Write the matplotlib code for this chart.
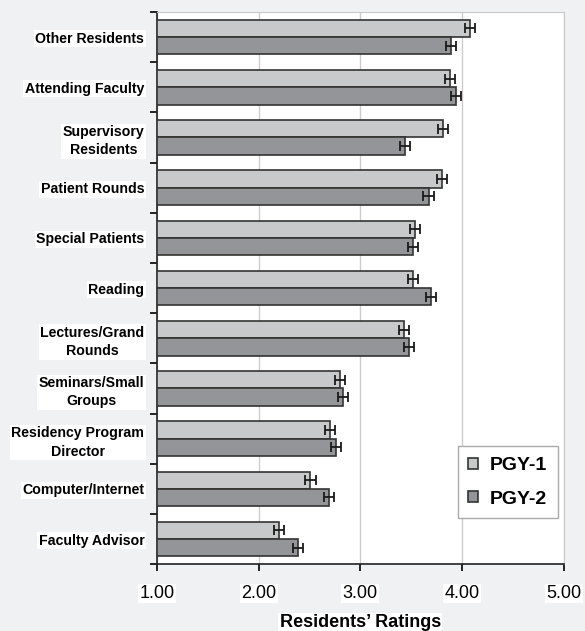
import numpy as np
import matplotlib
matplotlib.use('Agg')
import matplotlib.pyplot as plt

# data
categories = ['Other Residents', 'Attending Faculty', 'Supervisory\nResidents',
              'Patient Rounds', 'Special Patients', 'Reading',
              'Lectures/Grand\nRounds', 'Seminars/Small\nGroups',
              'Residency Program\nDirector', 'Computer/Internet', 'Faculty Advisor']
pgy1 = [4.08, 3.88, 3.81, 3.80, 3.54, 3.52, 3.43, 2.80, 2.70, 2.51, 2.20]
pgy2 = [3.89, 3.94, 3.44, 3.67, 3.52, 3.69, 3.48, 2.83, 2.76, 2.69, 2.39]
pgy1_err = [0.05, 0.05, 0.05, 0.05, 0.05, 0.05, 0.05, 0.05, 0.05, 0.05, 0.05]
pgy2_err = [0.05, 0.05, 0.05, 0.05, 0.05, 0.05, 0.05, 0.05, 0.05, 0.05, 0.05]
xticks = [1, 2, 3, 4, 5]

plt.rcParams['font.family'] = ['Liberation Sans', 'DejaVu Sans']

fig = plt.figure(figsize=(5.85, 6.31), dpi=100, facecolor='#f0f1f3')
ax = fig.add_axes([0.268, 0.106, 0.696, 0.875])
ax.set_facecolor('white')

y = np.arange(len(categories))
h = 0.345
ebar = dict(ecolor='#1a1a1a', elinewidth=1.3, capsize=3.5, capthick=1.3)
ax.barh(y - h / 2, np.array(pgy1) - 1, h, left=1, color='#c8c9cb',
        edgecolor='#333333', linewidth=1.2, label='PGY-1',
        xerr=pgy1_err, error_kw=ebar, zorder=3)
ax.barh(y + h / 2, np.array(pgy2) - 1, h, left=1, color='#939598',
        edgecolor='#333333', linewidth=1.2, label='PGY-2',
        xerr=pgy2_err, error_kw=ebar, zorder=3)

ax.set_xlim(1, 5)
ax.set_ylim(len(categories) - 0.5, -0.5)
ax.set_xticks(xticks)
ax.set_xticklabels(['%.2f' % v for v in xticks], fontsize=13)
ax.xaxis.grid(True, color='#cccccc', linewidth=1, zorder=0)

# category boundaries get the tick marks, labels sit in between
ax.set_yticks(np.arange(-0.5, len(categories)), minor=False)
ax.set_yticklabels([])
ax.set_yticks(y, minor=True)
ax.set_yticklabels(categories, minor=True, fontsize=10.2, fontweight='bold',
                   multialignment='center', linespacing=1.4)
ax.tick_params(axis='y', which='major', length=5, width=1.2, direction='out')
ax.tick_params(axis='y', which='minor', length=0, pad=9)
ax.tick_params(axis='x', length=5, width=1.2, pad=10)

for lab in ax.get_yticklabels(minor=True) + ax.get_xticklabels():
    lab.set_bbox(dict(facecolor='white', edgecolor='none', pad=1))

for s in ['left', 'bottom']:
    ax.spines[s].set_color('#222222')
    ax.spines[s].set_linewidth(1.2)
for s in ['top', 'right']:
    ax.spines[s].set_color('#c8c8c8')

xl = ax.set_xlabel('Residents\u2019 Ratings', fontsize=13, fontweight='bold', labelpad=9)
xl.set_bbox(dict(facecolor='white', edgecolor='none', pad=1))

leg = ax.legend(loc='lower right', bbox_to_anchor=(0.985, 0.083),
                prop={'weight': 'bold', 'size': 14}, fancybox=False,
                edgecolor='#aaaaaa', framealpha=1, handlelength=0.5,
                handleheight=0.5, handletextpad=0.6, labelspacing=0.85,
                borderpad=0.55, borderaxespad=0)
leg.get_frame().set_linewidth(1)

fig.savefig('out.png', dpi=100, facecolor=fig.get_facecolor())
